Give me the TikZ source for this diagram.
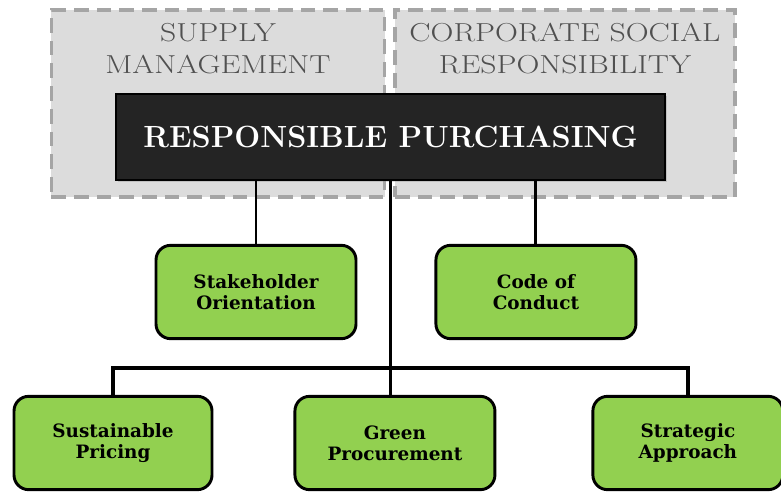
\documentclass[tikz,border=0pt]{standalone}
\usepackage{fontspec}
\usetikzlibrary{positioning, calc, backgrounds, shadows}

\newfontfamily\leaffont{DejaVu Serif}
% wide, light caption lines for the panels
\newcommand{\panelcaption}[1]{\scalebox{1.22}[1]{\begin{tabular}{@{}c@{}}#1\end{tabular}}}

\definecolor{panelgray}{HTML}{DCDCDC}
\definecolor{dashgray}{HTML}{A5A5A5}
\definecolor{headgray}{HTML}{505050}
\definecolor{leafgreen}{HTML}{92D050}
\definecolor{darkbox}{HTML}{242424}

\begin{document}
\begin{tikzpicture}[
        x=0.75pt, y=-0.75pt,
        groupbox/.style={draw=dashgray, fill=panelgray, dash pattern=on 11pt off 6pt, line width=2.6pt, minimum width=250pt, minimum height=140pt},
        headtext/.style={text=headgray, inner sep=0pt, font=\fontsize{19.5}{24}\selectfont\addfontfeature{LetterSpace=5}},
        mainbox/.style={draw=black, fill=darkbox, line width=1.2pt, minimum width=411.75pt, minimum height=64.5pt, text=white, font=\fontsize{23}{26}\selectfont\bfseries, drop shadow={opacity=0.3, shadow xshift=1.5pt, shadow yshift=-1.5pt}},
        leafbox/.style={draw=black, fill=leafgreen, line width=2.2pt, rounded corners=11pt, minimum width=150pt, minimum height=70pt, align=center, font=\leaffont\fontsize{13.8}{15.5}\selectfont\bfseries},
        link/.style={line width=2.2pt},
        barline/.style={line width=3pt, line join=miter},
    ]
    \useasboundingbox (0,0) rectangle (781,492);

    %% ===== Background panels =====
    \node[groupbox] (supply) at (218,103.5) {};
    \node[groupbox, minimum width=255pt] (csr) at (565,103.5) {};
    \node[headtext, below=7.5pt of supply.north] (supplytxt) {\panelcaption{SUPPLY\\MANAGEMENT}};
    \node[headtext, below=7.5pt of csr.north] (csrtxt) {\panelcaption{CORPORATE SOCIAL\\RESPONSIBILITY}};

    %% ===== Core concept =====
    \node[mainbox] (main) at (390.5,137) {RESPONSIBLE PURCHASING};

    %% ===== First row =====
    \node[leafbox] (stake) at (256,292) {Stakeholder\\Orientation};
    \node[leafbox, right=57.75pt of stake] (code) {Code of\\Conduct};

    %% ===== Second row =====
    \node[leafbox, minimum width=148.5pt] (pricing) at (113,443) {Sustainable\\Pricing};
    \node[leafbox, right=60pt of pricing] (green) {Green\\Procurement};
    \node[leafbox, minimum width=142.5pt, right=71.25pt of green] (strat) {Strategic\\Approach};

    %% ===== Connectors =====
    \coordinate (bar) at (0,368);
    \draw[link] (main.south -| stake.north) -- (stake.north);
    \draw[link] (main.south -| code.north) -- (code.north);
    \draw[link] (main.south) -- (main.south |- green.north);
    \draw[barline] (pricing.north) -- (pricing.north |- bar) -- (strat.north |- bar) -- (strat.north);

\end{tikzpicture}
\end{document}
